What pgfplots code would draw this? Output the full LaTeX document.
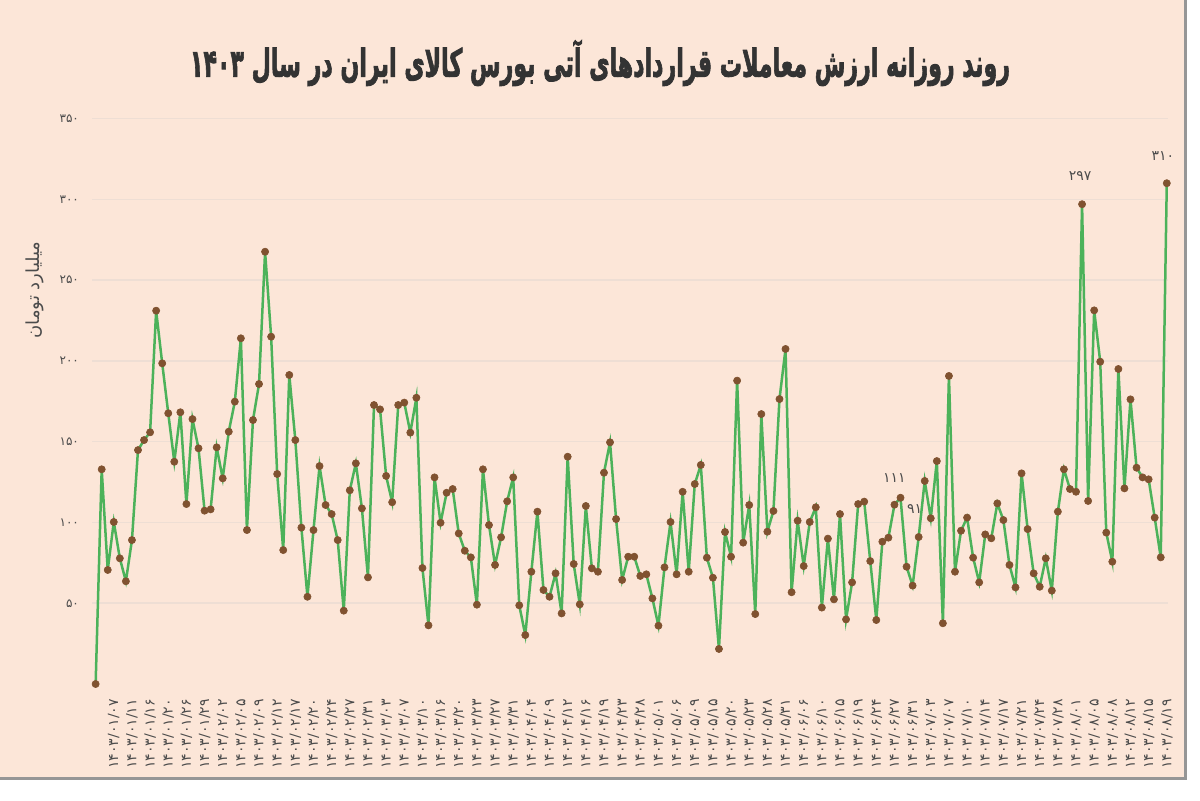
\documentclass[border=0pt]{standalone}
\usepackage{pgfplots}
\pgfplotsset{compat=1.18}
\usepackage{pgfplotstable}
\usepackage{fontspec}
\usepackage{graphicx}
\TeXXeTstate=1
\newfontfamily\arabicfont[Script=Arabic]{DejaVu Sans}
\newfontfamily\titlefont[Script=Arabic, BoldFeatures={FakeBold=2.5}]{DejaVu Sans}
\newfontfamily\titledigits[BoldFeatures={FakeBold=2.5}]{DejaVu Sans}
\newfontfamily\digitfont{DejaVu Sans}
\definecolor{bg}{RGB}{252,230,216}
\definecolor{gridc}{RGB}{238,222,212}
\definecolor{linec}{RGB}{76,178,90}
\definecolor{markc}{RGB}{128,82,48}
\definecolor{txt}{RGB}{75,75,75}
\definecolor{frame}{RGB}{150,150,150}

\pgfplotstableread{
i v
0 0
1 132.9
2 70.6
3 100.3
4 77.8
5 63.6
6 89.1
7 144.8
8 151.0
9 155.8
10 231.1
11 198.5
12 167.6
13 137.6
14 168.2
15 111.4
16 164.0
17 145.9
18 107.3
19 108.1
20 146.5
21 127.3
22 156.2
23 174.8
24 214.0
25 95.3
26 163.4
27 185.7
28 267.6
29 215.0
30 130.0
31 82.9
32 191.3
33 151.0
34 96.8
35 54.0
36 95.3
37 134.9
38 110.8
39 105.2
40 89.1
41 45.4
42 119.9
43 136.6
44 108.7
45 66.0
46 172.7
47 170.0
48 128.8
49 112.5
50 172.7
51 174.2
52 155.6
53 177.2
54 71.8
55 36.3
56 127.9
57 99.8
58 118.4
59 120.7
60 93.2
61 82.5
62 78.4
63 49.1
64 132.9
65 98.4
66 73.7
67 90.8
68 113.1
69 127.9
70 48.7
71 30.3
72 69.5
73 106.7
74 58.2
75 54.0
76 68.5
77 43.7
78 140.7
79 74.3
80 49.3
81 110.2
82 71.6
83 69.5
84 130.8
85 149.6
86 102.1
87 64.4
88 78.8
89 78.8
90 66.9
91 67.9
92 53.0
93 36.1
94 72.2
95 100.3
96 67.9
97 119.0
98 69.5
99 123.8
100 135.6
101 78.2
102 65.8
103 21.7
104 94.1
105 78.8
106 187.8
107 87.5
108 110.8
109 43.3
110 167.1
111 94.3
112 107.1
113 176.4
114 207.4
115 56.8
116 101.1
117 73.0
118 100.3
119 109.4
120 47.3
121 90.0
122 52.4
123 105.2
124 40.0
125 62.9
126 111.4
127 112.9
128 76.1
129 39.6
130 88.1
131 90.6
132 111
133 115.3
134 72.6
135 60.9
136 91
137 125.7
138 102.6
139 138.0
140 37.6
141 190.7
142 69.5
143 94.9
144 103.0
145 78.2
146 62.9
147 92.6
148 90.2
149 111.8
150 101.5
151 73.7
152 59.8
153 130.4
154 95.9
155 68.5
156 60.2
157 77.8
158 57.8
159 106.7
160 132.9
161 120.7
162 119.0
163 297
164 113.3
165 231.3
166 199.5
167 93.7
168 75.7
169 195.0
170 121.1
171 176.2
172 133.9
173 127.9
174 126.7
175 103.0
176 78.4
177 310
}\datatable

\begin{document}
\begin{tikzpicture}
\begin{scope}[x=0.5pt,y=0.5pt]
\useasboundingbox (0,0) rectangle (1200,800);
\fill[white] (0,0) rectangle (1200,800);
\fill[bg] (0,22) rectangle (1185,800);
\draw[frame,line width=1.5pt] (0,22) -- (1185,22) -- (1185,800);
\node[text=black!80, inner sep=0pt] at (600,737)
  {\resizebox*{410pt}{23pt}{\titlefont\bfseries\beginR روند روزانه ارزش معاملات قراردادهای آتی بورس کالای ایران در سال {\titledigits\bfseries\beginL ۱۴۰۳\endL}\endR}};
\node[rotate=90, font=\arabicfont\fontsize{9}{10}\selectfont, text=txt] at (35,510)
  {\beginR میلیارد تومان\endR};
\end{scope}
\begin{axis}[
  at={(46pt,58pt)}, anchor=south west,
  scale only axis, width=538pt, height=282.7pt,
  xmin=-0.6, xmax=177.2, ymin=0, ymax=350,
  clip=false,
  axis line style={draw=none},
  major tick length=0pt,
  ymajorgrids, grid style={gridc, line width=0.8pt},
  ytick={50,100,150,200,250,300,350},
  yticklabels={۵۰,۱۰۰,۱۵۰,۲۰۰,۲۵۰,۳۰۰,۳۵۰},
  yticklabel style={font=\digitfont\fontsize{6}{7}\selectfont, text=txt},
  yticklabel shift=3pt,
  xtick={3,6,...,177},
  xticklabels={۱۴۰۳/۰۱/۰۷,۱۴۰۳/۰۱/۱۱,۱۴۰۳/۰۱/۱۶,۱۴۰۳/۰۱/۲۰,۱۴۰۳/۰۱/۲۶,۱۴۰۳/۰۱/۲۹,۱۴۰۳/۰۲/۰۲,۱۴۰۳/۰۲/۰۵,۱۴۰۳/۰۲/۰۹,۱۴۰۳/۰۲/۱۲,۱۴۰۳/۰۲/۱۷,۱۴۰۳/۰۲/۲۰,۱۴۰۳/۰۲/۲۴,۱۴۰۳/۰۲/۲۷,۱۴۰۳/۰۲/۳۱,۱۴۰۳/۰۳/۰۳,۱۴۰۳/۰۳/۰۷,۱۴۰۳/۰۳/۱۰,۱۴۰۳/۰۳/۱۶,۱۴۰۳/۰۳/۲۰,۱۴۰۳/۰۳/۲۳,۱۴۰۳/۰۳/۲۷,۱۴۰۳/۰۳/۳۱,۱۴۰۳/۰۴/۰۴,۱۴۰۳/۰۴/۰۹,۱۴۰۳/۰۴/۱۲,۱۴۰۳/۰۴/۱۶,۱۴۰۳/۰۴/۱۹,۱۴۰۳/۰۴/۲۳,۱۴۰۳/۰۴/۲۸,۱۴۰۳/۰۵/۰۱,۱۴۰۳/۰۵/۰۶,۱۴۰۳/۰۵/۰۹,۱۴۰۳/۰۵/۱۵,۱۴۰۳/۰۵/۲۰,۱۴۰۳/۰۵/۲۳,۱۴۰۳/۰۵/۲۸,۱۴۰۳/۰۵/۳۱,۱۴۰۳/۰۶/۰۶,۱۴۰۳/۰۶/۱۰,۱۴۰۳/۰۶/۱۵,۱۴۰۳/۰۶/۱۹,۱۴۰۳/۰۶/۲۴,۱۴۰۳/۰۶/۲۷,۱۴۰۳/۰۶/۳۱,۱۴۰۳/۰۷/۰۳,۱۴۰۳/۰۷/۰۷,۱۴۰۳/۰۷/۱۰,۱۴۰۳/۰۷/۱۴,۱۴۰۳/۰۷/۱۷,۱۴۰۳/۰۷/۲۱,۱۴۰۳/۰۷/۲۴,۱۴۰۳/۰۷/۲۸,۱۴۰۳/۰۸/۰۱,۱۴۰۳/۰۸/۰۵,۱۴۰۳/۰۸/۰۸,۱۴۰۳/۰۸/۱۲,۱۴۰۳/۰۸/۱۵,۱۴۰۳/۰۸/۱۹},
  xticklabel style={rotate=90, anchor=east, font=\digitfont\fontsize{7}{8}\selectfont, text=txt},
  xticklabel shift=4pt,
]
\addplot[linec, line width=1.25pt, mark=*, mark size=1.8pt,
  mark options={fill=markc, draw=markc, line width=0.3pt}] table[x=i,y=v] {\datatable};
\node[font=\digitfont\fontsize{7}{8}\selectfont, text=txt, yshift=14pt, xshift=-1pt] at (axis cs:163,297) {۲۹۷};
\node[font=\digitfont\fontsize{7}{8}\selectfont, text=txt, yshift=13.5pt, xshift=-2pt] at (axis cs:177,310) {۳۱۰};
\node[font=\digitfont\fontsize{7}{8}\selectfont, text=txt, yshift=13.5pt] at (axis cs:132,111) {۱۱۱};
\node[font=\digitfont\fontsize{7}{8}\selectfont, text=txt, yshift=14pt, xshift=-2pt] at (axis cs:136,91) {۹۱};
\end{axis}
\end{tikzpicture}
\end{document}
